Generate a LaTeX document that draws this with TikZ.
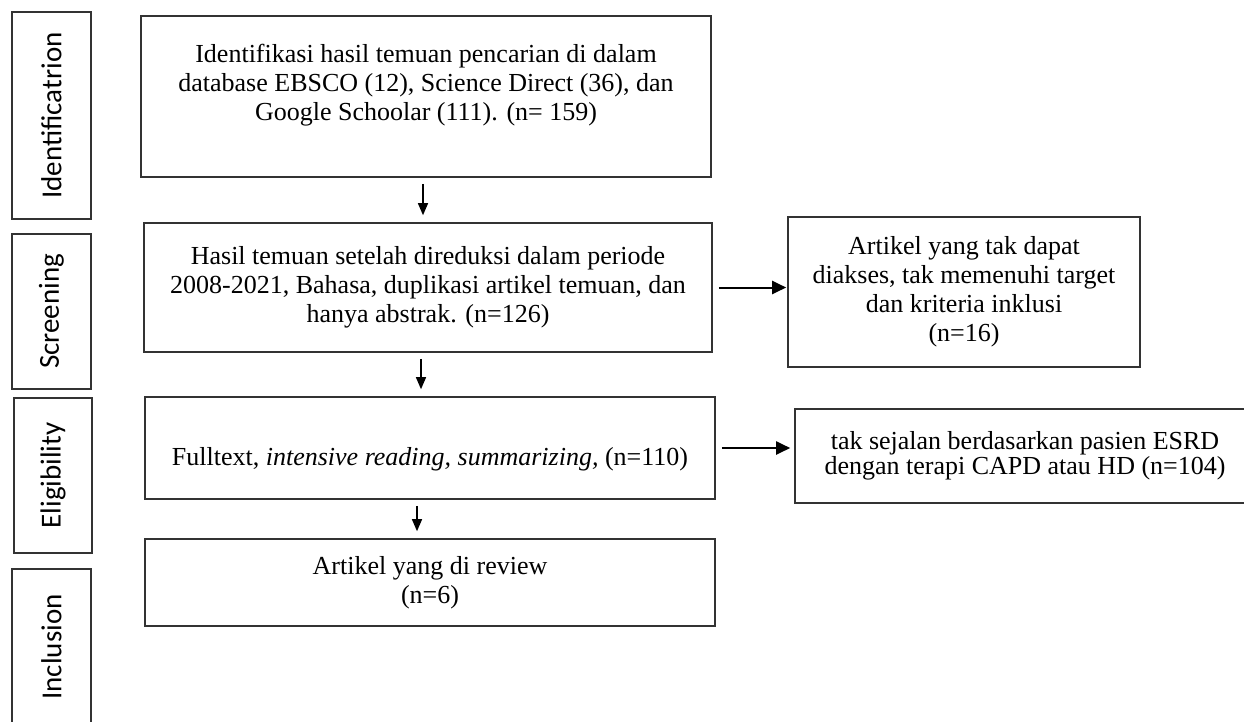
\documentclass[tikz,border=0pt]{standalone}
\usepackage{fontspec}
\setmainfont{Liberation Serif}
\newfontfamily\stagefont{Carlito}
\usetikzlibrary{arrows.meta}

\tikzset{every picture/.style={line width=1pt}}
\tikzset{
  mainbox/.style={draw=black!80, line width=1.6pt, inner sep=0pt, align=center, font=\fontsize{26}{29}\selectfont},
  stagebox/.style={draw=black!80, line width=1.6pt, inner sep=0pt, rotate=90, font=\stagefont\fontsize{29}{32}\selectfont},
  downarrow/.style={-{Triangle[length=12pt,width=10pt]}, line width=1.3pt, shorten <=6pt, shorten >=7pt},
  sidearrow/.style={-{Triangle[length=14pt,width=13pt]}, line width=2pt, shorten <=6pt, shorten >=1pt},
}

\begin{document}
\begin{tikzpicture}[x=1pt,y=1pt,yscale=-1,xscale=1]
\useasboundingbox (0,0) rectangle (1244,721);
\clip (0,0) rectangle (1244,721);

%Stage labels
\node [stagebox, minimum width=207pt, minimum height=79pt] (ident) at (51.5,115.5) {Identificatrion};
\node [stagebox, minimum width=155pt, minimum height=79pt] (screen) at (51.5,311.5) {Screening};
\node [stagebox, minimum width=155pt, minimum height=78pt] (elig) at (53,475.5) {Eligibility};
\node [stagebox, minimum width=156pt, minimum height=79pt] (incl) at (51.5,647) {Inclusion};

%Main column
\node [mainbox, minimum width=570pt, minimum height=161pt] (found) at (426,96.5) {Identifikasi hasil temuan pencarian di dalam\\database EBSCO (12), Science Direct (36), dan\\Google Schoolar (111). (n= 159)\\\mbox{}};
\node [mainbox, minimum width=568pt, minimum height=129pt] (reduced) at (428,287.5) {Hasil temuan setelah direduksi dalam periode\\2008-2021, Bahasa, duplikasi artikel temuan, dan\\hanya abstrak. (n=126)};
\node [mainbox, minimum width=570pt, minimum height=102pt] (fulltext) at (430,448) {\raisebox{-17pt}[0pt][0pt]{Fulltext, \textit{intensive reading, summarizing,} (n=110)}};
\node [mainbox, minimum width=570pt, minimum height=87pt] (review) at (430,582.5) {Artikel yang di review\\(n=6)};

%Side column
\node [mainbox, minimum width=352pt, minimum height=150pt] (noaccess) at (964,292) {Artikel yang tak dapat\\diakses, tak memenuhi target\\dan kriteria inklusi\\(n=16)};
\node [mainbox, minimum width=460pt, minimum height=94pt, font=\fontsize{26}{25}\selectfont] (nomatch) at (1025,456) {tak sejalan berdasarkan pasien ESRD\\dengan terapi CAPD atau HD (n=104)};

%Arrows
\draw [downarrow] ([xshift=-3pt]found.south) -- ([xshift=-5pt]reduced.north);
\draw [downarrow] ([xshift=-7pt]reduced.south) -- ([xshift=-9pt]fulltext.north);
\draw [downarrow] ([xshift=-13pt]fulltext.south) -- ([xshift=-13pt]review.north);
\draw [sidearrow] (reduced.east) -- (reduced.east -| noaccess.west);
\draw [sidearrow, shorten >=4pt] (fulltext.east) -- (fulltext.east -| nomatch.west);

\end{tikzpicture}
\end{document}
